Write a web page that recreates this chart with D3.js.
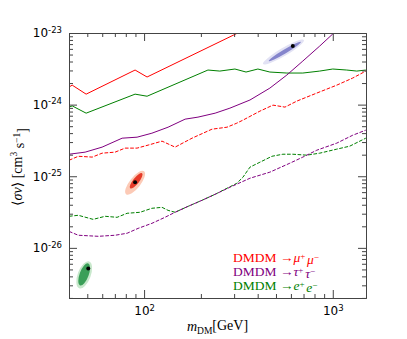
<!DOCTYPE html>
<head>
  <meta charset="utf-8">
  <script src="https://d3js.org/d3.v7.min.js"></script>
  <style>
    body { margin:0; background:#fff; }
    .tick line, .domain { stroke:#444; }
    .tick text { font-family:"DejaVu Sans", sans-serif; font-size:12px; fill:#000; }
  </style>
</head>
<body>
  <div class="chart"></div>
  <script>
    // limits (mass in GeV, <sigma v> in cm^3/s)
    const massRange = [40, 1500];
    const svRange = [Math.pow(10, -26.7), 1e-23];
    const massMajor = [100, 1000];
    const svMajor = [1e-26, 1e-25, 1e-24, 1e-23];

    // solid lines
    const muMassSolid = [40, 41.6, 49.3, 89.6, 103.7, 299, 411];
    const muSolid = [1.76e-24, 1.87e-24, 1.40e-24, 3.04e-24, 2.43e-24, 9.4e-24, 1.43e-23];

    const tauMassSolid = [40, 48.7, 59.9, 76.5, 91.8, 110, 134, 165, 193, 238, 285, 364, 464, 571, 694, 853, 1000, 1157];
    const tauSolid = [2.03e-25, 2.17e-25, 2.55e-25, 3.40e-25, 3.51e-25, 3.99e-25, 4.84e-25, 6.27e-25, 6.69e-25,
                      7.6e-25, 8.93e-25, 1.16e-24, 1.70e-24, 2.59e-24, 4.06e-24, 6.58e-24, 9.7e-24, 1.38e-23];

    const eMassSolid = [40, 41.6, 49.3, 89.6, 103.7, 218, 252, 303, 347, 401, 464, 571, 694, 853, 1000, 1186, 1340, 1496];
    const eSolid = [9.2e-25, 9.6e-25, 7.6e-25, 1.40e-24, 1.31e-24, 3.04e-24, 2.94e-24, 3.14e-24, 2.85e-24,
                    3.14e-24, 2.85e-24, 2.76e-24, 2.76e-24, 2.94e-24, 3.14e-24, 3.04e-24, 2.94e-24, 3.04e-24];

    // dashed lines
    const muMassDash = [40, 44.8, 53.1, 59.9, 70.2, 79.3, 91.8, 105, 124.5, 146, 179.5, 229, 275, 310, 334,
                        411, 482, 558, 645, 823, 1050, 1276, 1496];
    const muDash = [1.67e-25, 1.90e-25, 1.85e-25, 2.10e-25, 2.17e-25, 2.47e-25, 2.47e-25, 2.72e-25, 3.09e-25,
                    2.55e-25, 3.40e-25, 4.54e-25, 4.84e-25, 5.51e-25, 6.07e-25, 8.11e-25, 9.84e-25, 9.23e-25,
                    1.12e-24, 1.45e-24, 1.87e-24, 2.35e-24, 2.94e-24];

    const tauMassDash = [40, 44.8, 57.2, 70.2, 81.3, 92.9, 110, 129, 146, 171, 203, 238, 285, 364, 464, 592,
                         694, 823, 1050, 1276, 1496];
    const tauDash = [1.70e-26, 1.50e-26, 1.45e-26, 1.50e-26, 1.60e-26, 1.87e-26, 2.20e-26, 2.67e-26, 3.14e-26,
                     3.80e-26, 4.62e-26, 5.60e-26, 7.02e-26, 9.38e-26, 1.14e-25, 1.52e-25, 1.85e-25, 2.31e-25,
                     2.90e-25, 3.74e-25, 4.40e-25];

    const eMassDash = [40, 44.8, 53.7, 62.2, 71.9, 81.3, 95.2, 110, 124.5, 134, 146, 171, 203, 238, 262, 310,
                       334, 364, 411, 476, 544, 614, 728, 853, 1050, 1230, 1496];
    const eDash = [2.76e-26, 2.85e-26, 2.50e-26, 2.76e-26, 2.67e-26, 3.04e-26, 3.14e-26, 3.57e-26, 3.68e-26,
                   3.34e-26, 3.14e-26, 3.80e-26, 4.62e-26, 5.60e-26, 6.37e-26, 7.98e-26, 9.68e-26, 1.34e-25,
                   1.57e-25, 1.90e-25, 2.03e-25, 2.03e-25, 1.97e-25, 2.10e-25, 2.39e-25, 2.63e-25, 3.40e-25];

    // best fit regions: best point, ends of inner and outer contours along the long axis
    const fitNames = ["tau", "mu", "e"];
    const fitBest = [[614, 6.6e-24], [89.6, 8.24e-26], [50.6, 5.17e-27]];
    const fitInner = [[[458, 4.06e-24], [677, 7.48e-24]], [[84.4, 6.79e-26], [97.6, 1.10e-25]], [[45.8, 2.99e-27], [50.6, 6.07e-27]]];
    const fitOuter = [[[427, 3.68e-24], [703, 7.98e-24]], [[80.3, 5.6e-26], [100, 1.17e-25]], [[45.3, 2.72e-27], [51.2, 6.47e-27]]];

    const legendChannels = [["\u03bc", "+", "\u03bc", "\u2212"], ["\u03c4", "+", "\u03c4", "\u2212"], ["e", "+", "e", "\u2212"]];

    const colors = { mu: "#ff0000", tau: "#800080", e: "#008000" };
    const fitColors = { tau: ["#e2e2f4", "#8585cc"], mu: ["#fccab6", "#e63a28"], e: ["#c8e8cc", "#3a9f58"] };
    const serif = "'Liberation Serif', 'DejaVu Serif', serif";

    const W = 407, H = 339;
    const mLeft = 69, mRight = 366, mTop = 33, mBottom = 298;

    const x = d3.scaleLog().domain(massRange).range([mLeft, mRight]);
    const y = d3.scaleLog().domain(svRange).range([mBottom, mTop]);

    const svg = d3.select(".chart").append("svg")
      .attr("width", W).attr("height", H);

    svg.append("defs").append("clipPath").attr("id", "clip")
      .append("rect").attr("x", mLeft).attr("y", mTop)
      .attr("width", mRight - mLeft).attr("height", mBottom - mTop);

    const plot = svg.append("g").attr("clip-path", "url(#clip)");

    // minor tick values
    function minors(lo, hi) {
      const out = [];
      for (let e = Math.floor(Math.log10(lo)); e <= Math.ceil(Math.log10(hi)); e++) {
        for (let k = 2; k <= 9; k++) {
          const v = k * Math.pow(10, e);
          if (v >= lo && v <= hi) out.push(v);
        }
      }
      return out;
    }
    const massMinor = minors(massRange[0], massRange[1]);
    const svMinor = minors(svRange[0], svRange[1]);

    // regions
    function ellipse(g, ends, ry, fill) {
      const p0 = [x(ends[0][0]), y(ends[0][1])], p1 = [x(ends[1][0]), y(ends[1][1])];
      const cx = (p0[0] + p1[0]) / 2, cy = (p0[1] + p1[1]) / 2;
      const rx = Math.hypot(p1[0] - p0[0], p1[1] - p0[1]) / 2;
      const ang = Math.atan2(p1[1] - p0[1], p1[0] - p0[0]) * 180 / Math.PI;
      g.append("ellipse").attr("cx", cx).attr("cy", cy).attr("rx", rx).attr("ry", ry)
        .attr("transform", "rotate(" + ang + "," + cx + "," + cy + ")")
        .attr("fill", fill);
    }
    fitNames.forEach(function(n, i) {
      const g = plot.append("g");
      const w = n === "tau" ? [4, 2] : (n === "mu" ? [5.5, 3] : [6.5, 4.5]);
      ellipse(g, fitOuter[i], w[0], fitColors[n][0]);
      ellipse(g, fitInner[i], w[1], fitColors[n][1]);
      g.append("circle").attr("cx", x(fitBest[i][0])).attr("cy", y(fitBest[i][1]))
        .attr("r", 2).attr("fill", "#000");
    });

    const line = d3.line().x(function(d) { return x(d[0]); }).y(function(d) { return y(d[1]); });
    function curve(ms, vs, color, dashed) {
      plot.append("path")
        .datum(d3.zip(ms, vs))
        .attr("d", line)
        .attr("fill", "none")
        .attr("stroke", color)
        .attr("stroke-width", 1)
        .attr("stroke-dasharray", dashed ? "3.7,1.6" : null);
    }
    curve(muMassSolid, muSolid, colors.mu, false);
    curve(eMassSolid, eSolid, colors.e, false);
    curve(tauMassSolid, tauSolid, colors.tau, false);
    curve(muMassDash, muDash, colors.mu, true);
    curve(eMassDash, eDash, colors.e, true);
    curve(tauMassDash, tauDash, colors.tau, true);

    // axes, ticks pointing inward on all four sides
    function axes(axisFn, scale, vals, len, tr) {
      return svg.append("g").attr("transform", tr)
        .call(axisFn(scale).tickValues(vals).tickSizeInner(-len).tickSizeOuter(0).tickPadding(8).tickFormat(""));
    }
    axes(d3.axisBottom, x, massMinor, 4, "translate(0," + mBottom + ")");
    axes(d3.axisTop, x, massMinor, 4, "translate(0," + mTop + ")");
    axes(d3.axisLeft, y, svMinor, 4, "translate(" + mLeft + ",0)");
    axes(d3.axisRight, y, svMinor, 4, "translate(" + mRight + ",0)");
    axes(d3.axisTop, x, massMajor, 8, "translate(0," + mTop + ")");
    axes(d3.axisRight, y, svMajor, 8, "translate(" + mRight + ",0)");

    const xa = svg.append("g").attr("transform", "translate(0," + mBottom + ")")
      .call(d3.axisBottom(x).tickValues(massMajor).tickSizeInner(-8).tickSizeOuter(0).tickPadding(8)
        .tickFormat(function(d) { return Math.round(Math.log10(d)); }));
    xa.selectAll(".tick text").each(function(d) {
      const t = d3.select(this), e = t.text();
      t.text(null);
      t.append("tspan").text("10");
      t.append("tspan").attr("font-size", "8.5px").attr("dy", "-0.45em").text(e);
    });

    const ya = svg.append("g").attr("transform", "translate(" + mLeft + ",0)")
      .call(d3.axisLeft(y).tickValues(svMajor).tickSizeInner(-8).tickSizeOuter(0).tickPadding(7)
        .tickFormat(function(d) { return Math.round(Math.log10(d)); }));
    ya.selectAll(".tick text").each(function(d) {
      const t = d3.select(this), e = t.text();
      t.text(null);
      t.append("tspan").text("10");
      t.append("tspan").attr("font-size", "8.5px").attr("dy", "-0.55em").text(e);
    });
    svg.selectAll(".domain").attr("stroke", "#444");

    // axis labels
    const xl = svg.append("text").attr("font-family", serif).attr("x", (mLeft + mRight) / 2).attr("y", 331)
      .attr("text-anchor", "middle").attr("font-size", "14px");
    xl.append("tspan").attr("font-style", "italic").text("m");
    xl.append("tspan").attr("font-size", "9.5px").attr("dy", "0.3em").text("DM");
    xl.append("tspan").attr("dy", "-0.3em").text("[GeV]");

    const yl = svg.append("text").attr("font-family", serif)
      .attr("transform", "translate(22," + (mTop + mBottom + 3) / 2 + ") rotate(-90)")
      .attr("text-anchor", "middle").attr("font-size", "14px");
    yl.append("tspan").text("\u27e8");
    yl.append("tspan").attr("font-style", "italic").text("\u03c3v");
    yl.append("tspan").text("\u27e9 [cm");
    yl.append("tspan").attr("font-size", "9.5px").attr("dy", "-0.5em").text("3");
    yl.append("tspan").attr("dy", "0.5em").text(" s");
    yl.append("tspan").attr("font-size", "9.5px").attr("dy", "-0.5em").text("\u22121");
    yl.append("tspan").attr("dy", "0.5em").text("]");

    // legend text
    const legendColors = [colors.mu, colors.tau, colors.e];
    legendChannels.forEach(function(c, i) {
      const t = svg.append("text").attr("font-family", serif)
        .attr("x", 233).attr("y", 262 + i * 14).attr("font-size", "13.5px").attr("fill", legendColors[i]);
      t.append("tspan").text("DMDM \u2192");
      t.append("tspan").attr("font-style", "italic").text(c[0]);
      t.append("tspan").attr("font-size", "9px").attr("dy", "-0.35em").text(c[1] + "\u2009");
      t.append("tspan").attr("font-style", "italic").attr("dy", "0.35em").text(c[2]);
      t.append("tspan").attr("font-size", "9px").attr("dy", "-0.35em").text(c[3]);
    });
  </script>
</body>
